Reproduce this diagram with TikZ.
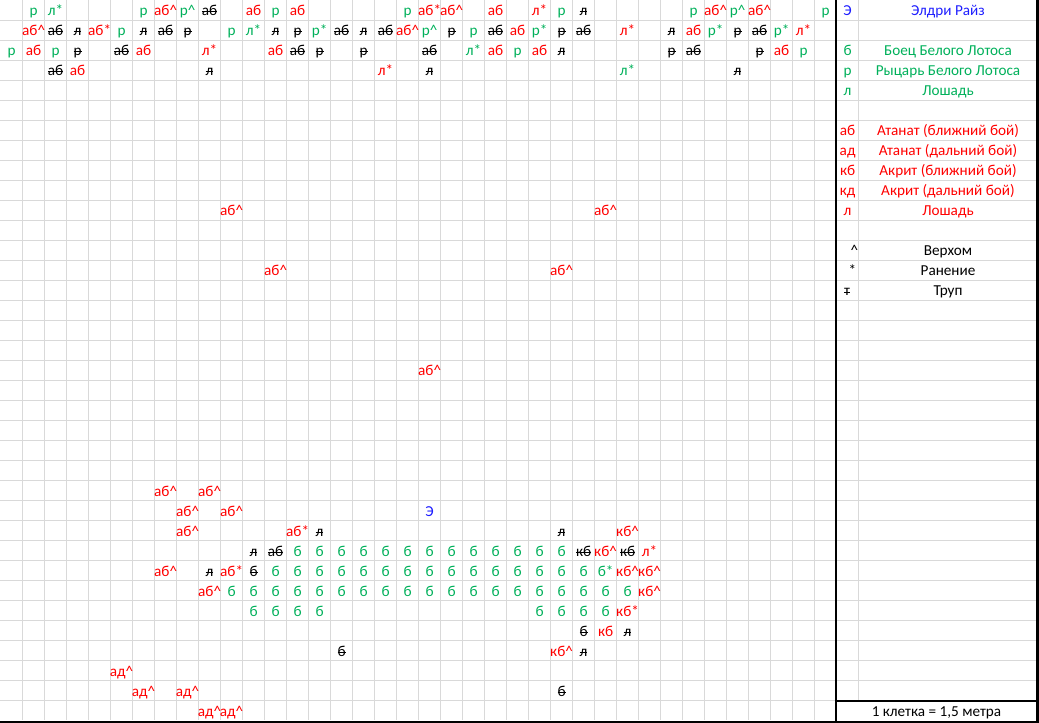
\documentclass[tikz,border=0pt]{standalone}
\usepackage{fontspec}
\setmainfont{Carlito}
\definecolor{xg}{RGB}{0,176,90}
\definecolor{xr}{RGB}{255,0,0}
\definecolor{xb}{RGB}{30,30,255}
\definecolor{gridc}{RGB}{217,217,217}
\newcommand\crt{\textasciicircum}
\newcommand\strk[1]{\setbox0=\hbox{#1}\rlap{\rule[0.23em]{\wd0}{0.75pt}}\box0}
\newcommand\rowcells[2]{\foreach \c/\s/\t in {#2}{\node[\s] (n#1-\c) at ({11.6+22*\c},{20*#1+16}) {\t};}}
\begin{document}
\begin{tikzpicture}[x=0.75pt,y=-0.75pt,font=\fontsize{11.4}{13}\selectfont,
  cell/.style={anchor=base,inner sep=0pt},
  gC/.style={cell,text=xg}, rC/.style={cell,text=xr},
  kC/.style={cell,text=black}, bC/.style={cell,text=xb},
  gridline/.style={draw=gridc,line width=0.75pt},
  thickline/.style={draw=black,line width=1.7pt}]
\useasboundingbox (0,0) rectangle (1039,723);
% main grid
\foreach \k in {1,...,37} \draw[gridline] ({22.5+22*(\k-1)},0) -- ({22.5+22*(\k-1)},720);
\foreach \r in {1,...,35} \draw[gridline] (0,{20*\r+0.5}) -- (836,{20*\r+0.5});
% legend grid
\draw[gridline] (858.5,0) -- (858.5,700);
\foreach \r in {1,...,34} \draw[gridline] (837,{20*\r+0.5}) -- (1037,{20*\r+0.5});
% thick borders
\draw[thickline] (836,0) -- (836,723);
\draw[thickline] (1037.6,0) -- (1037.6,723);
\draw[thickline] (0,721.7) -- (1038.5,721.7);
\draw[thickline] (836,701) -- (1038.5,701);
% cells
\rowcells{0}{1/gC/р,2/gC/л*,6/gC/р,7/rC/аб\crt,8/gC/р\crt,9/kC/\strk{аб},11/rC/аб,12/gC/р,13/rC/аб,18/gC/р,19/rC/аб*,20/rC/аб\crt,22/rC/аб,24/rC/л*,25/gC/р,26/kC/\strk{л},31/gC/р,32/rC/аб\crt,33/gC/р\crt,34/rC/аб\crt,37/gC/р}
\rowcells{1}{1/rC/аб\crt,2/kC/\strk{аб},3/kC/\strk{л},4/rC/аб*,5/gC/р,6/kC/\strk{л},7/kC/\strk{аб},8/kC/\strk{р},10/gC/р,11/gC/л*,12/kC/\strk{л},13/kC/\strk{р},14/gC/р*,15/kC/\strk{аб},16/kC/\strk{л},17/kC/\strk{аб},18/rC/аб\crt,19/gC/р\crt,20/kC/\strk{р},21/gC/р,22/kC/\strk{аб},23/rC/аб,24/gC/р*,25/kC/\strk{р},26/kC/\strk{аб},28/rC/л*,30/kC/\strk{л},31/rC/аб,32/gC/р*,33/kC/\strk{р},34/kC/\strk{аб},35/gC/р*,36/rC/л*}
\rowcells{2}{0/gC/р,1/rC/аб,2/gC/р,3/kC/\strk{р},5/kC/\strk{аб},6/rC/аб,9/rC/л*,12/rC/аб,13/kC/\strk{аб},14/kC/\strk{р},16/kC/\strk{р},19/kC/\strk{аб},21/gC/л*,22/rC/аб,23/gC/р,24/rC/аб,25/kC/\strk{л},30/kC/\strk{р},31/kC/\strk{аб},34/kC/\strk{р},35/rC/аб,36/gC/р}
\rowcells{3}{2/kC/\strk{аб},3/rC/аб,9/kC/\strk{л},17/rC/л*,19/kC/\strk{л},28/gC/л*,33/kC/\strk{л}}
\rowcells{10}{10/rC/аб\crt,27/rC/аб\crt}
\rowcells{13}{12/rC/аб\crt,25/rC/аб\crt}
\rowcells{18}{19/rC/аб\crt}
\rowcells{24}{7/rC/аб\crt,9/rC/аб\crt}
\rowcells{25}{8/rC/аб\crt,10/rC/аб\crt,19/bC/Э}
\rowcells{26}{8/rC/аб\crt,13/rC/аб*,14/kC/\strk{л},25/kC/\strk{л},28/rC/кб\crt}
\rowcells{27}{11/kC/\strk{л},12/kC/\strk{аб},26/kC/\strk{кб},27/rC/кб\crt,28/kC/\strk{кб},29/rC/л*}
\foreach \c in {13,...,25} \node[gC] (n27-\c) at ({11.6+22*\c},556) {б};
\rowcells{28}{7/rC/аб\crt,9/kC/\strk{л},10/rC/аб*,11/kC/\strk{б},27/gC/б*,28/rC/кб\crt,29/rC/кб\crt}
\foreach \c in {12,...,26} \node[gC] (n28-\c) at ({11.6+22*\c},576) {б};
\rowcells{29}{9/rC/аб\crt,29/rC/кб\crt}
\foreach \c in {10,...,28} \node[gC] (n29-\c) at ({11.6+22*\c},596) {б};
\rowcells{30}{11/gC/б,12/gC/б,13/gC/б,14/gC/б,24/gC/б,25/gC/б,26/gC/б,27/gC/б,28/rC/кб*}
\rowcells{31}{26/kC/\strk{б},27/rC/кб,28/kC/\strk{л}}
\rowcells{32}{15/kC/\strk{б},25/rC/кб\crt,26/kC/\strk{л}}
\rowcells{33}{5/rC/ад\crt}
\rowcells{34}{6/rC/ад\crt,8/rC/ад\crt,25/kC/\strk{б}}
\rowcells{35}{9/rC/ад\crt,10/rC/ад\crt}
% legend
\foreach \r/\s/\a/\b in {0/bC/Э/Элдри Райз,2/gC/б/Боец Белого Лотоса,3/gC/р/Рыцарь Белого Лотоса,4/gC/л/Лошадь,
  6/rC/аб/Атанат (ближний бой),7/rC/ад/Атанат (дальний бой),8/rC/кб/Акрит (ближний бой),9/rC/кд/Акрит (дальний бой),10/rC/л/Лошадь}
  {\node[\s] (s\r) at (847.6,{20*\r+16}) {\a};
   \node[\s] (d\r) at (948,{20*\r+16}) {\b};}
\node[kC] (s12) at (854.5,256) {\crt};
\node[kC] (d12) at (948,256) {Верхом};
\node[kC] (s13) at (852.5,276) {*};
\node[kC] (d13) at (948,276) {Ранение};
\node[kC] (s14) at (847,296) {\strk{т}};
\node[kC] (d14) at (948,296) {Труп};
\node[kC] (scale) at (936.5,716) {1 клетка = 1,5 метра};
\end{tikzpicture}
\end{document}
